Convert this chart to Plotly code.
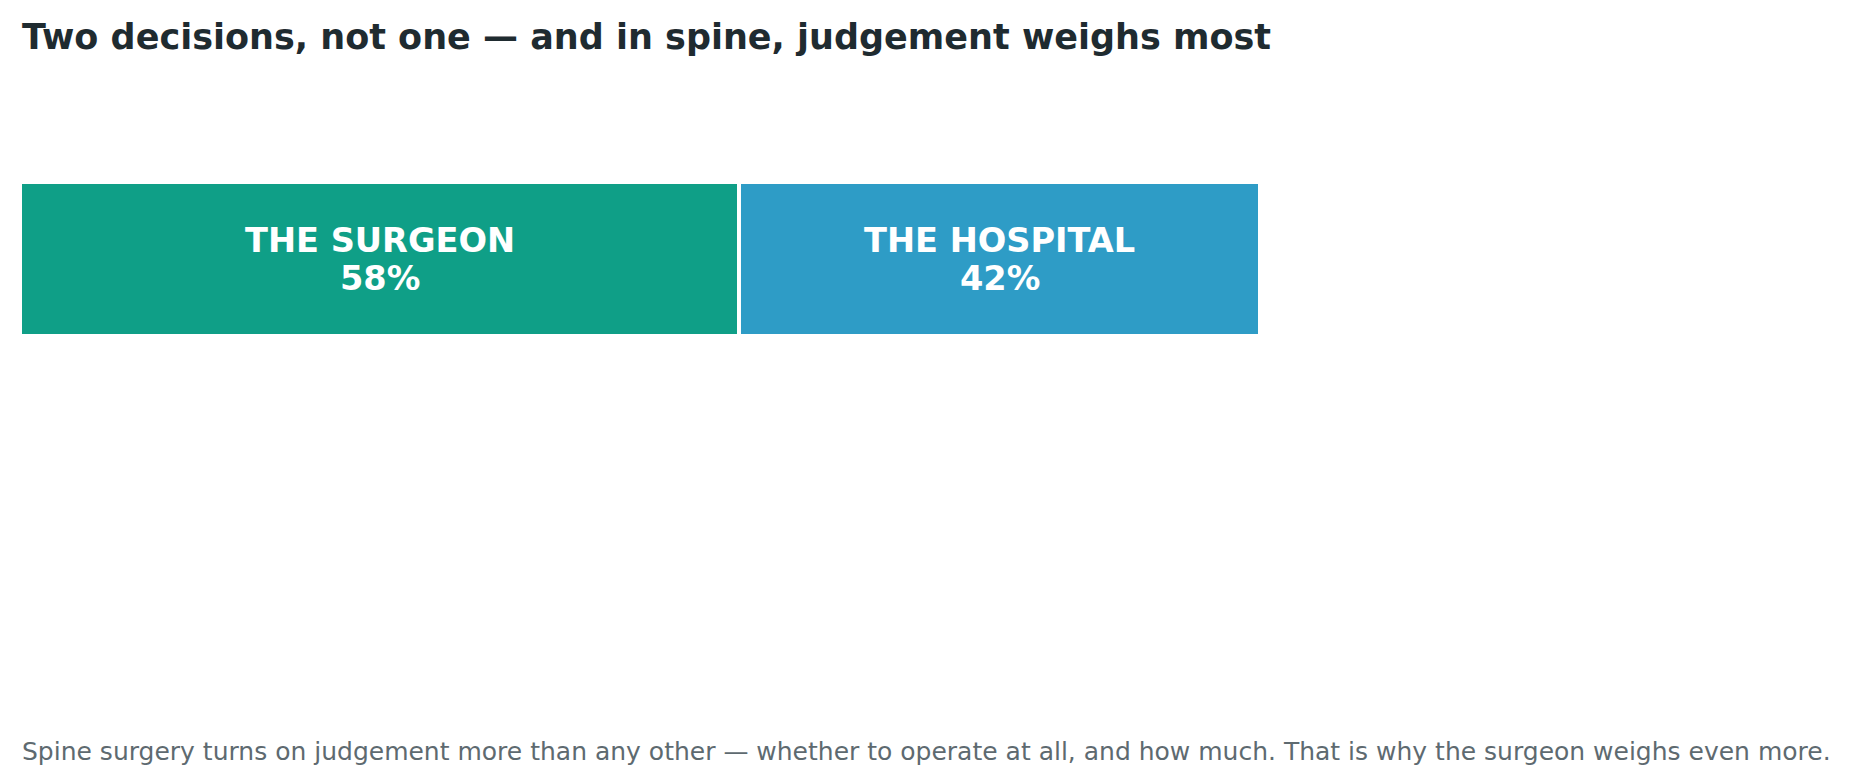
import plotly.graph_objects as go

# shares of the decision
parties = ["THE SURGEON", "THE HOSPITAL"]
shares = [58, 42]
colors = ["#0f9f87", "#2e9cc6"]

title_text = "Two decisions, not one — and in spine, judgement weighs most"
note_text = ("Spine surgery turns on judgement more than any other — whether to operate at all, "
             "and how much. That is why the surgeon weighs even more.")

FONT = "DejaVu Sans"

fig = go.Figure()
for party, share, color in zip(parties, shares, colors):
    fig.add_trace(go.Bar(
        x=[share], y=[0], orientation="h", width=1, name=party,
        marker=dict(color=color, line=dict(color="white", width=4)),
        hoverinfo="skip",
    ))

# labels centred in each segment
start = 0
for party, share in zip(parties, shares):
    mid = start + share / 2
    fig.add_annotation(x=mid, y=0, text=f"<b>{party}</b>", showarrow=False,
                       yshift=19, font=dict(family=FONT, size=33.6, color="white"))
    fig.add_annotation(x=mid, y=0, text=f"<b>{share}%</b>", showarrow=False,
                       yshift=-19, font=dict(family=FONT, size=33.6, color="white"))
    start += share

fig.add_annotation(text=f"<b>{title_text}</b>", xref="paper", yref="paper", x=0, y=1,
                   xanchor="left", yanchor="top", yshift=-7, showarrow=False,
                   font=dict(family=FONT, size=35, color="#1f2b30"))
fig.add_annotation(text=note_text, xref="paper", yref="paper", x=0, y=0,
                   xanchor="left", yanchor="bottom", yshift=7, showarrow=False,
                   font=dict(family=FONT, size=25, color="#5e6a70"))

# page body adds an 8px margin, so the figure is 8px smaller and shifted
fig.update_layout(
    barmode="stack",
    width=1835, height=767,
    margin=dict(l=12, r=583, t=0, b=0),
    showlegend=False,
    paper_bgcolor="white", plot_bgcolor="white",
    xaxis=dict(range=[0, 100], visible=False, fixedrange=True),
    yaxis=dict(range=[-3.3506, 1.6299], visible=False, fixedrange=True),
)

fig.write_html("out.html")
